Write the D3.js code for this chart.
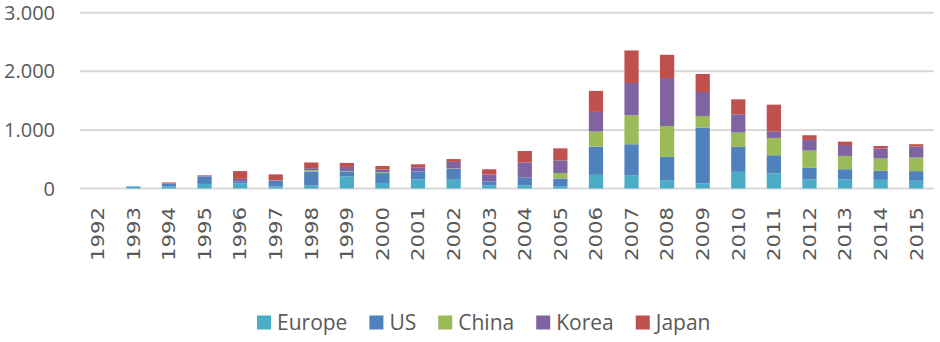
<!DOCTYPE html>
<html>
<head>
<meta charset="utf-8">
<script src="https://cdn.jsdelivr.net/npm/d3@7"></script>
<style>
html,body{margin:0;padding:0;background:#fff;}
svg{display:block;}
</style>
</head>
<body>
<svg id="chart" width="940" height="342"></svg>
<script>
const years = ["1992","1993","1994","1995","1996","1997","1998","1999","2000","2001","2002","2003","2004","2005","2006","2007","2008","2009","2010","2011","2012","2013","2014","2015"];
const seriesNames = ["Europe","US","China","Korea","Japan"];
const europe = [0, 30, 35, 78, 88, 35, 55, 205, 95, 155, 150, 55, 55, 40, 233, 221, 142, 85, 284, 261, 159, 159, 148, 131];
const us     = [0, 8, 45, 128, 28, 98, 235, 85, 168, 136, 187, 66, 131, 130, 483, 534, 397, 954, 426, 307, 193, 170, 153, 165];
const china  = [0, 0, 0, 0, 0, 0, 23, 5, 17, 0, 5, 0, 0, 95, 256, 494, 528, 199, 244, 295, 295, 227, 210, 233];
const korea  = [0, 0, 5, 4, 48, 5, 34, 73, 45, 72, 112, 116, 258, 215, 335, 551, 818, 409, 312, 114, 182, 187, 170, 187];
const japan  = [0, 0, 18, 15, 133, 103, 97, 69, 58, 50, 48, 91, 196, 205, 358, 556, 397, 307, 256, 454, 80, 57, 45, 40];
const yTicks = [0, 1000, 2000, 3000];
const yTickLabels = ["0", "1.000", "2.000", "3.000"];
const colors = ["#4bacc6", "#4f81bd", "#9bbb59", "#8064a2", "#c0504d"];

const seriesValues = [europe, us, china, korea, japan];
const table = years.map((y, i) => {
  const row = {year: y};
  seriesNames.forEach((s, k) => row[s] = seriesValues[k][i]);
  return row;
});

const svg = d3.select("#chart");
const x = d3.scaleBand().domain(years).range([80, 934]).paddingInner(0.6).paddingOuter(0.3);
const y = d3.scaleLinear().domain([0, 3000]).range([188.5, 12.7]);

// gridlines
svg.append("g").selectAll("line").data(yTicks).join("line")
  .attr("x1", 80).attr("x2", 934)
  .attr("y1", d => y(d)).attr("y2", d => y(d))
  .attr("stroke", "#d9d9d9").attr("stroke-width", 2);

// y labels
svg.append("g").selectAll("text").data(yTicks).join("text")
  .attr("x", 55).attr("y", d => y(d) + 7)
  .attr("text-anchor", "end")
  .attr("font-family", "'Open Sans', sans-serif")
  .attr("font-size", 20)
  .attr("fill", "#595959")
  .text((d, i) => yTickLabels[i]);

// stacked bars
const stack = d3.stack().keys(seriesNames)(table);
svg.append("g").selectAll("g").data(stack).join("g")
  .attr("fill", (d, i) => colors[i])
  .selectAll("rect").data(d => d).join("rect")
  .attr("x", d => x(d.data.year))
  .attr("width", x.bandwidth())
  .attr("y", d => y(d[1]))
  .attr("height", d => Math.max(0, y(d[0]) - y(d[1])));

// x labels
svg.append("g").selectAll("text").data(years).join("text")
  .attr("transform", d => `translate(${x(d) + x.bandwidth() / 2},207) rotate(-90) scale(1.18,1)`)
  .attr("text-anchor", "end")
  .attr("dy", "0.35em")
  .attr("font-family", "'DejaVu Sans', sans-serif")
  .attr("font-size", 18)
  .attr("fill", "#595959")
  .text(d => d);

// legend
const legend = svg.append("g");
let lx = 257;
seriesNames.forEach((name, i) => {
  legend.append("rect").attr("x", lx).attr("y", 315.5).attr("width", 14).attr("height", 14).attr("fill", colors[i]);
  const t = legend.append("text")
    .attr("x", lx + 20).attr("y", 330)
    .attr("font-family", "'Open Sans', sans-serif")
    .attr("font-size", 21)
    .attr("fill", "#595959")
    .text(name);
  lx += 20 + t.node().getComputedTextLength() + 22;
});
</script>
</body>
</html>
